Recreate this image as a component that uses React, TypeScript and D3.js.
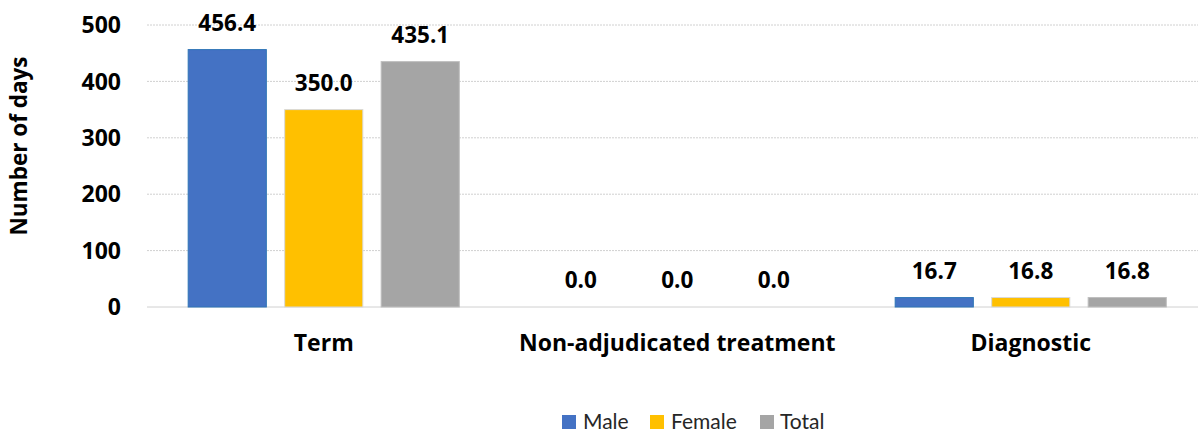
import React from "react";
import * as d3 from "d3";

const categories = ["Term", "Non-adjudicated treatment", "Diagnostic"];
const seriesNames = ["Male", "Female", "Total"];
const maleValues = [456.4, 0.0, 16.7];
const femaleValues = [350.0, 0.0, 16.8];
const totalValues = [435.1, 0.0, 16.8];
const yTicks = [0, 100, 200, 300, 400, 500];
const colors = ["#4472C4", "#FFC000", "#A5A5A5"];
const strokes = ["#2E75B6", "#D9D9D9", "#BFBFBF"];

const W = 1198;
const H = 433;
const FONT = "'Open Sans', Lato, sans-serif";
const LFONT = "Lato, 'Open Sans', sans-serif";

export default function App() {
  const series = [maleValues, femaleValues, totalValues];
  const y = d3.scaleLinear().domain([0, 500]).range([307, 25]);
  const x0 = d3.scaleBand<string>().domain(categories).range([147, 1207.5]).paddingInner(0.233).paddingOuter(0.1165);
  const x1 = d3.scaleBand<string>().domain(seriesNames).range([0, x0.bandwidth()]).paddingInner(0.19);

  const legendItems = [
    { name: "Male", sx: 562, tx: 583 },
    { name: "Female", sx: 650, tx: 671 },
    { name: "Total", sx: 760, tx: 780 },
  ];

  return (
    <svg width={W} height={H} style={{ position: "absolute", left: 0, top: 0, background: "#fff" }} fontFamily={FONT}>
      {yTicks.map((t) => (
        <g key={t}>
          <line x1={147} x2={W} y1={y(t)} y2={y(t)} stroke="#D0D0D0" strokeWidth={1} strokeDasharray={t === 0 ? undefined : "2,1"} />
          <text x={121} y={y(t)} dy="0.36em" textAnchor="end" fontSize={23} fontWeight="bold" fill="#000">{t}</text>
        </g>
      ))}
      <text transform={`translate(27,146) rotate(-90)`} textAnchor="middle" fontSize={22.5} fontWeight="bold" fill="#000">Number of days</text>
      {categories.map((c, ci) => (
        <g key={c} transform={`translate(${x0(c)},0)`}>
          {seriesNames.map((s, si) => {
            const v = series[si][ci];
            const top = y(v);
            return (
              <g key={s}>
                {v > 0 && (
                  <rect x={x1(s)} y={top} width={x1.bandwidth()} height={y(0) - top} fill={colors[si]} stroke={strokes[si]} strokeWidth={1} />
                )}
                <text x={(x1(s) as number) + x1.bandwidth() / 2} y={top - 19} textAnchor="middle" fontSize={22.5} fontWeight="bold" fill="#000">{v.toFixed(1)}</text>
              </g>
            );
          })}
          <text x={x0.bandwidth() / 2} y={351} textAnchor="middle" fontSize={23} fontWeight="bold" fill="#000">{c}</text>
        </g>
      ))}
      {legendItems.map((l, i) => (
        <g key={l.name}>
          <rect x={l.sx} y={415} width={14} height={14} fill={colors[i]} />
          <text x={l.tx} y={429} fontSize={21} fontFamily={LFONT} fill="#262626">{l.name}</text>
        </g>
      ))}
    </svg>
  );
}
